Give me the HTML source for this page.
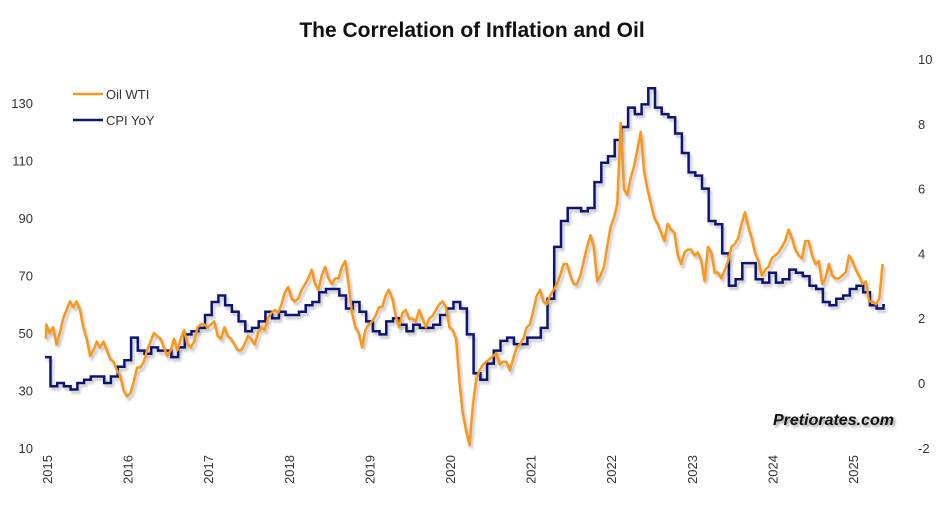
<!DOCTYPE html>
<html><head><meta charset="utf-8"><style>
body{margin:0;background:#fff;}
svg{display:block;font-family:"Liberation Sans",Arial,sans-serif;}
</style></head><body>
<svg id="chart" width="945" height="509" viewBox="0 0 945 509" xmlns="http://www.w3.org/2000/svg">
<defs><filter id="sh" x="-5%" y="-5%" width="110%" height="110%"><feGaussianBlur stdDeviation="1.2"/></filter></defs>
<text x="472" y="37" text-anchor="middle" font-size="21" font-weight="bold" fill="#111">The Correlation of Inflation and Oil</text>
<g id="leftTicks"></g>
<g id="rightTicks"></g>
<g id="xTicks"></g>
<g id="shadows"></g>
<g id="series"></g>
<g>
<line x1="73" y1="94" x2="103" y2="94" stroke="#F7981D" stroke-width="2.5"/>
<text x="106" y="99" font-size="13" fill="#333">Oil WTI</text>
<line x1="73" y1="120" x2="103" y2="120" stroke="#0D1472" stroke-width="2.5"/>
<text x="106" y="125" font-size="13" fill="#333">CPI YoY</text>
</g>
<text x="775" y="427" font-size="16" font-weight="bold" font-style="italic" fill="#999" filter="url(#sh)">Pretiorates.com</text>
<text x="773" y="425" font-size="16" font-weight="bold" font-style="italic" fill="#111">Pretiorates.com</text>
</svg>
<script>
const years=[2015,2016,2017,2018,2019,2020,2021,2022,2023,2024,2025];
const leftTickVals=[10,30,50,70,90,110,130];
const rightTickVals=[-2,0,2,4,6,8,10];
// CPI YoY by month, plotted at release (first value = Dec 2014)
const cpi=[0.8,
-0.1,0.0,-0.1,-0.2,0.0,0.1,0.2,0.2,0.0,0.2,0.5,0.7,
1.4,1.0,0.9,1.1,1.0,1.0,0.8,1.1,1.5,1.6,1.7,2.1,
2.5,2.7,2.4,2.2,1.9,1.6,1.7,1.9,2.2,2.0,2.2,2.1,
2.1,2.2,2.4,2.5,2.8,2.9,2.9,2.7,2.3,2.5,2.2,1.9,
1.6,1.5,1.9,2.0,1.8,1.6,1.8,1.7,1.7,1.8,2.1,2.3,
2.5,2.3,1.5,0.3,0.1,0.6,1.0,1.3,1.4,1.2,1.2,1.4,
1.4,1.7,2.6,4.2,5.0,5.4,5.4,5.3,5.4,6.2,6.8,7.0,
7.5,7.9,8.5,8.3,8.6,9.1,8.5,8.3,8.2,7.7,7.1,6.5,
6.4,6.0,5.0,4.9,4.0,3.0,3.2,3.7,3.7,3.2,3.1,3.4,
3.1,3.2,3.5,3.4,3.3,3.0,2.9,2.5,2.4,2.6,2.7,2.9,
3.0,2.8,2.4,2.3,2.4];
// WTI semi-monthly
const oil=[
48,53,50,52,46,50,55,58,61,59,61,58,52,48,42,44,47,45,47,44,41,40,37,35,
30,28,29,33,38,38,40,44,47,50,49,48,45,42,44,48,44,48,51,46,45,47,52,53,
53,52,53,54,49,48,52,49,48,46,44,44,46,49,48,46,50,52,51,55,57,58,57,60,
64,66,62,61,62,65,67,69,72,67,65,70,73,69,67,69,69,73,75,67,57,52,50,45,
51,53,54,56,59,59,63,65,62,56,52,57,58,55,55,54,58,55,52,55,56,58,60,61,
59,52,51,48,33,22,16,11,25,34,37,39,40,41,42,43,39,40,40,37,41,45,46,48,
52,53,58,63,65,61,60,63,65,67,70,74,74,70,67,67,70,75,80,84,80,68,70,73,
80,87,90,95,123,100,98,104,108,114,120,106,100,95,90,88,85,82,88,86,85,77,74,78,
79,79,77,78,75,68,80,78,71,71,69,72,75,80,81,83,88,92,87,83,78,75,70,72,
73,76,77,78,80,82,86,83,79,77,76,82,82,77,74,75,67,69,74,70,69,69,70,71,
77,75,72,70,67,68,61,61,60,62,74];
const NS='http://www.w3.org/2000/svg';
const xS=t=>47+(t-2015)*80.6;
const yL=v=>448-(v-10)*2.875;
const yR=v=>383-v*32.4;
const shift=0.07;
function mk(tag,attrs,parent){const e=document.createElementNS(NS,tag);for(const k in attrs)e.setAttribute(k,attrs[k]);parent.appendChild(e);return e;}
const lt=document.getElementById('leftTicks'),rt=document.getElementById('rightTicks'),xt=document.getElementById('xTicks');
leftTickVals.forEach(v=>{const t=mk('text',{x:33,y:yL(v)+5,'text-anchor':'end','font-size':13,fill:'#333'},lt);t.textContent=v;

});
rightTickVals.forEach(v=>{const t=mk('text',{x:918,y:yR(v)+5,'font-size':13,fill:'#333'},rt);t.textContent=v;

});
years.forEach(y=>{const x=xS(y);const t=mk('text',{x:0,y:0,'text-anchor':'end','font-size':13,fill:'#333',transform:`translate(${x+5},455) rotate(-90)`},xt);t.textContent=y;

});
let cp='';cpi.forEach((v,i)=>{const x0=Math.max(45,xS(2015+i/12-0.04)),x1=xS(2015+(i+1)/12-0.04),y=yR(v);cp+=(i?'L':'M')+x0.toFixed(1)+','+y.toFixed(1)+'L'+Math.min(x1,885).toFixed(1)+','+y.toFixed(1);});
let op='';oil.forEach((v,i)=>{const x=Math.max(46,xS(2015+(i+0.5)/24-shift));op+=(i?'L':'M')+x.toFixed(1)+','+yL(v).toFixed(1);});
const sh=document.getElementById('shadows'),se=document.getElementById('series');
const s1=mk('path',{d:cp,fill:'none',stroke:'#aaa','stroke-width':2.5,transform:'translate(2,3)',filter:'url(#sh)',opacity:0.7},sh);


const s2=mk('path',{d:op,fill:'none',stroke:'#aaa','stroke-width':2.5,transform:'translate(2,3)',filter:'url(#sh)',opacity:0.7},sh);


const c=mk('path',{d:cp,fill:'none',stroke:'#0D1472','stroke-width':2.5},se);


const o=mk('path',{d:op,fill:'none',stroke:'#F7981D','stroke-width':2.5,'stroke-linejoin':'round'},se);


</script>
</body></html>
